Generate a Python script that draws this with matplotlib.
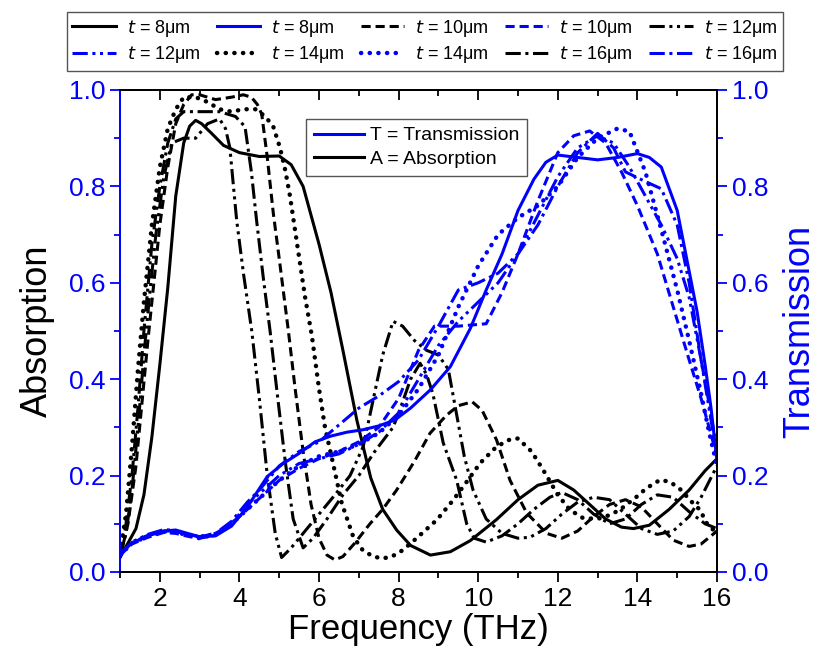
import matplotlib
matplotlib.use("Agg")
import matplotlib.pyplot as plt
from matplotlib.lines import Line2D
from matplotlib.ticker import MultipleLocator, FormatStrFormatter, NullFormatter

plt.rcParams['font.family'] = ['Liberation Sans', 'DejaVu Sans']

# ---- absorption (left axis) ----
a8_x = [1.0, 1.2, 1.4, 1.6, 1.8, 2.0, 2.2, 2.4, 2.6, 2.75, 2.9, 3.05, 3.3, 3.6, 4.0, 4.5, 5.0, 5.3, 5.6, 6.0,
        6.3, 6.6, 6.95, 7.3, 7.6, 7.95, 8.3, 8.8, 9.3, 9.8, 10.45, 11.0, 11.5, 12.0, 12.4, 12.8, 13.2, 13.6,
        13.9, 14.3, 14.8, 15.3, 15.7, 16.0]
a8_y = [0.03, 0.06, 0.09, 0.16, 0.28, 0.43, 0.59, 0.78, 0.89, 0.925, 0.937, 0.93, 0.91, 0.885, 0.87, 0.862,
        0.863, 0.845, 0.8, 0.68, 0.58, 0.46, 0.315, 0.195, 0.13, 0.087, 0.055, 0.035, 0.042, 0.065, 0.108,
        0.15, 0.18, 0.19, 0.17, 0.14, 0.11, 0.093, 0.09, 0.097, 0.13, 0.17, 0.21, 0.235]

a10_x = [1.0, 1.2, 1.4, 1.55, 1.7, 1.85, 2.0, 2.2, 2.4, 2.6, 2.8, 3.0, 3.4, 3.8, 4.1, 4.3, 4.45, 4.56, 4.7,
         4.85, 5.0, 5.23, 5.4, 5.6, 5.8, 6.0, 6.2, 6.4, 6.6, 6.9, 7.28, 7.6, 7.95, 8.4, 8.79, 9.2, 9.5, 9.85,
         10.1, 10.46, 10.8, 11.22, 11.72, 12.1, 12.5, 12.9, 13.3, 13.7, 14.1, 14.5, 14.9, 15.3, 15.6, 16.0]
a10_y = [0.03, 0.1, 0.22, 0.35, 0.48, 0.6, 0.72, 0.84, 0.93, 0.97, 0.99, 0.99, 0.98, 0.985, 0.99, 0.985, 0.97,
         0.95, 0.86, 0.745, 0.65, 0.5, 0.38, 0.25, 0.14, 0.07, 0.035, 0.025, 0.032, 0.06, 0.1, 0.13, 0.17, 0.23,
         0.288, 0.325, 0.345, 0.353, 0.335, 0.274, 0.19, 0.122, 0.08, 0.07, 0.085, 0.115, 0.14, 0.15, 0.135,
         0.1, 0.066, 0.053, 0.058, 0.085]

a12_x = [1.0, 1.15, 1.3, 1.45, 1.6, 1.75, 1.9, 2.1, 2.3, 2.6, 2.9, 3.2, 3.5, 3.65, 3.76, 3.85, 3.93, 4.1, 4.31,
         4.5, 4.7, 4.9, 5.06, 5.3, 5.6, 6.0, 6.4, 6.78, 7.11, 7.36, 7.6, 7.86, 8.1, 8.4, 8.7, 9.0, 9.25, 9.45,
         9.65, 9.87, 10.2, 10.6, 11.0, 11.3, 11.7, 12.1, 12.5, 12.9, 13.3, 13.7, 14.1, 14.5, 14.9, 15.3, 15.6,
         16.0]
a12_y = [0.03, 0.08, 0.17, 0.3, 0.45, 0.58, 0.7, 0.82, 0.89, 0.9, 0.9, 0.93, 0.94, 0.92, 0.88, 0.8, 0.73, 0.62,
         0.5, 0.36, 0.2, 0.08, 0.03, 0.05, 0.08, 0.12, 0.16, 0.2, 0.26, 0.357, 0.45, 0.52, 0.51, 0.48, 0.46, 0.45,
         0.42, 0.33, 0.24, 0.17, 0.11, 0.08, 0.07, 0.072, 0.09, 0.12, 0.145, 0.155, 0.15, 0.12, 0.09, 0.078,
         0.085, 0.115, 0.155, 0.22]

a14_x = [1.0, 1.15, 1.3, 1.45, 1.6, 1.8, 2.0, 2.2, 2.4, 2.6, 2.9, 3.2, 3.5, 3.8, 4.1, 4.4, 4.65, 4.85, 5.02,
         5.15, 5.27, 5.45, 5.65, 5.82, 6.0, 6.15, 6.35, 6.57, 6.86, 7.1, 7.36, 7.6, 7.83, 8.1, 8.45, 8.96, 9.37,
         9.71, 10.05, 10.46, 10.8, 11.0, 11.34, 11.63, 12.0, 12.3, 12.63, 13.0, 13.3, 13.56, 13.98, 14.23,
         14.57, 14.82, 15.1, 15.32, 15.57, 15.75, 16.0]
a14_y = [0.04, 0.12, 0.26, 0.42, 0.56, 0.72, 0.84, 0.92, 0.96, 0.985, 0.985, 0.975, 0.96, 0.955, 0.96, 0.96,
         0.945, 0.924, 0.88, 0.834, 0.78, 0.68, 0.57, 0.49, 0.38, 0.3, 0.226, 0.143, 0.073, 0.045, 0.032, 0.028,
         0.032, 0.045, 0.07, 0.108, 0.149, 0.187, 0.226, 0.26, 0.275, 0.277, 0.25, 0.212, 0.16, 0.129, 0.112,
         0.11, 0.118, 0.129, 0.156, 0.174, 0.191, 0.187, 0.17, 0.149, 0.129, 0.1, 0.08]

a16_x = [1.0, 1.15, 1.3, 1.45, 1.6, 1.8, 2.0, 2.2, 2.4, 2.6, 3.0, 3.5, 3.9, 4.14, 4.3, 4.43, 4.6, 4.77, 4.95,
         5.15, 5.35, 5.6, 5.85, 6.2, 6.6, 7.0, 7.4, 7.86, 8.03, 8.3, 8.54, 8.7, 8.86, 9.12, 9.46, 9.71, 9.9,
         10.2, 10.6, 11.0, 11.4, 11.8, 12.1, 12.5, 12.9, 13.3, 13.7, 14.1, 14.5, 14.9, 15.3, 15.7, 16.0]
a16_y = [0.03, 0.1, 0.2, 0.34, 0.5, 0.68, 0.8, 0.89, 0.94, 0.955, 0.955, 0.955, 0.945, 0.924, 0.83, 0.73, 0.61,
         0.5, 0.37, 0.23, 0.11, 0.05, 0.07, 0.11, 0.16, 0.2, 0.25, 0.3, 0.336, 0.4, 0.433, 0.41, 0.37, 0.268,
         0.19, 0.1, 0.07, 0.062, 0.075, 0.1, 0.13, 0.155, 0.165, 0.15, 0.12, 0.1, 0.11, 0.14, 0.16, 0.155,
         0.125, 0.1, 0.09]

# ---- transmission (right axis) ----
t8_x = [1.0, 1.3, 1.7, 2.1, 2.4, 2.7, 3.0, 3.4, 3.8, 4.2, 4.7, 5.1, 5.5, 5.9, 6.3, 6.7, 7.1, 7.5, 7.9, 8.3,
        8.8, 9.3, 9.8, 10.2, 10.6, 11.0, 11.4, 11.7, 12.0, 12.5, 13.0, 13.5, 14.0, 14.3, 14.6, 15.0, 15.25,
        15.5, 15.7, 15.85, 16.0]
t8_y = [0.04, 0.06, 0.075, 0.085, 0.087, 0.08, 0.073, 0.075, 0.095, 0.135, 0.198, 0.225, 0.246, 0.27, 0.282,
        0.29, 0.295, 0.303, 0.315, 0.34, 0.378, 0.426, 0.505, 0.585, 0.66, 0.75, 0.815, 0.85, 0.865, 0.86,
        0.855, 0.86, 0.868, 0.86, 0.84, 0.75, 0.645, 0.54, 0.43, 0.34, 0.23]

t10_x = [1.0, 1.3, 1.7, 2.1, 2.4, 2.7, 3.0, 3.4, 3.8, 4.2, 4.6, 5.0, 5.5, 6.0, 6.5, 7.0, 7.5, 8.0, 8.5, 8.9,
         9.5, 10.2, 10.6, 11.0, 11.5, 12.0, 12.4, 12.8, 13.2, 13.6, 14.0, 14.5, 14.9, 15.3, 15.6, 15.8, 16.0]
t10_y = [0.035, 0.058, 0.072, 0.082, 0.08, 0.074, 0.07, 0.076, 0.1, 0.13, 0.16, 0.19, 0.215, 0.235, 0.25,
         0.27, 0.3, 0.36, 0.46, 0.51, 0.51, 0.515, 0.58, 0.66, 0.77, 0.87, 0.905, 0.915, 0.89, 0.83, 0.76,
         0.66, 0.55, 0.44, 0.36, 0.3, 0.24]

t12_x = [1.0, 1.3, 1.7, 2.1, 2.4, 2.7, 3.0, 3.4, 3.8, 4.2, 4.6, 5.0, 5.5, 6.0, 6.5, 7.0, 7.5, 8.0, 8.5, 9.0,
         9.5, 10.0, 10.5, 11.0, 11.5, 12.0, 12.5, 13.0, 13.4, 13.8, 14.2, 14.6, 15.0, 15.3, 15.6, 15.8, 16.0]
t12_y = [0.035, 0.062, 0.078, 0.088, 0.086, 0.077, 0.074, 0.08, 0.1, 0.14, 0.17, 0.2, 0.225, 0.235, 0.245,
         0.265, 0.29, 0.33, 0.4, 0.47, 0.52, 0.56, 0.6, 0.66, 0.74, 0.82, 0.88, 0.905, 0.89, 0.84, 0.78, 0.72,
         0.65, 0.57, 0.44, 0.34, 0.24]

t14_x = [1.0, 1.3, 1.7, 2.1, 2.4, 2.7, 3.0, 3.4, 3.8, 4.2, 4.6, 5.0, 5.5, 6.0, 6.5, 7.0, 7.5, 8.0, 8.5, 9.0,
         9.5, 10.0, 10.5, 11.0, 11.5, 12.0, 12.5, 13.0, 13.5, 13.8, 14.2, 14.6, 15.0, 15.3, 15.6, 15.8, 16.0]
t14_y = [0.035, 0.06, 0.074, 0.084, 0.083, 0.076, 0.07, 0.078, 0.1, 0.13, 0.16, 0.19, 0.22, 0.24, 0.25, 0.265,
         0.288, 0.325, 0.38, 0.45, 0.55, 0.635, 0.7, 0.735, 0.76, 0.8, 0.86, 0.9, 0.92, 0.914, 0.83, 0.71,
         0.585, 0.48, 0.37, 0.29, 0.22]

t16_x = [1.0, 1.3, 1.7, 2.1, 2.4, 2.7, 3.0, 3.4, 3.8, 4.2, 4.5, 5.0, 5.5, 6.0, 6.5, 7.0, 7.5, 8.0, 8.5, 9.0,
         9.5, 10.0, 10.5, 11.0, 11.5, 12.0, 12.5, 13.0, 13.4, 13.7, 14.2, 14.6, 15.0, 15.3, 15.6, 15.8, 16.0]
t16_y = [0.035, 0.062, 0.076, 0.086, 0.084, 0.078, 0.073, 0.08, 0.105, 0.145, 0.17, 0.22, 0.25, 0.27, 0.305,
         0.34, 0.365, 0.395, 0.44, 0.51, 0.585, 0.6, 0.62, 0.66, 0.72, 0.8, 0.87, 0.91, 0.88, 0.83, 0.81, 0.795,
         0.72, 0.6, 0.44, 0.35, 0.25]

labels_t = ['8', '10', '12', '14', '16']

styles = {
    '8': dict(ls='-', lw=2.2),
    '10': dict(ls=(0, (3, 1.6)), lw=2.2),
    '12': dict(ls=(0, (5, 1.5, 1, 1.5, 1, 1.5)), lw=2.2),
    '14': dict(ls=(0, (0.05, 1.9)), dash_capstyle='round', lw=3.2),
    '16': dict(ls=(0, (5, 1.5, 1, 1.5)), lw=2.2),
}

blue = '#0000ff'

fig = plt.figure(figsize=(8.25, 6.64), dpi=100)
ax = fig.add_axes([0.1455, 0.1386, 0.7236, 0.7259])
ax2 = ax.twinx()

abs_data = {'8': (a8_x, a8_y), '10': (a10_x, a10_y), '12': (a12_x, a12_y), '14': (a14_x, a14_y), '16': (a16_x, a16_y)}
tr_data = {'8': (t8_x, t8_y), '10': (t10_x, t10_y), '12': (t12_x, t12_y), '14': (t14_x, t14_y), '16': (t16_x, t16_y)}

handles = {}
for t in labels_t:
    la, = ax.plot(*abs_data[t], color='black', **styles[t])
    lt, = ax2.plot(*tr_data[t], color=blue, **styles[t])
    handles[('A', t)] = la
    handles[('T', t)] = lt

ax.set_xlim(1, 16)
ax.set_ylim(0, 1)
ax2.set_ylim(0, 1)
ax.xaxis.set_major_locator(MultipleLocator(2))
ax.xaxis.set_minor_locator(MultipleLocator(1))
for a in (ax, ax2):
    a.yaxis.set_major_locator(MultipleLocator(0.2))
    a.yaxis.set_minor_locator(MultipleLocator(0.1))
    a.yaxis.set_major_formatter(FormatStrFormatter('%.1f'))

ax.tick_params(axis='x', which='both', direction='out', labelsize=19, width=1.3)
ax.tick_params(axis='x', which='major', length=7)
ax.tick_params(axis='x', which='minor', length=4)
ax.tick_params(axis='y', which='both', direction='out', colors=blue, labelsize=19, width=1.3)
ax.tick_params(axis='y', which='major', length=7)
ax.tick_params(axis='y', which='minor', length=4)
ax2.tick_params(axis='y', which='both', direction='out', colors=blue, labelsize=19, width=1.3)
ax2.tick_params(axis='y', which='major', length=7)
ax2.tick_params(axis='y', which='minor', length=4)

# top ticks point inward, no labels
top = ax.secondary_xaxis('top')
top.xaxis.set_major_locator(MultipleLocator(2))
top.xaxis.set_minor_locator(MultipleLocator(1))
top.xaxis.set_major_formatter(NullFormatter())
top.tick_params(which='both', direction='in', width=1.3)
top.tick_params(which='major', length=7)
top.tick_params(which='minor', length=4)

ax.spines['left'].set_color(blue)
ax2.spines['left'].set_color(blue)
for a in (ax, ax2, top):
    for s in a.spines.values():
        s.set_linewidth(1.3)

ax.set_xlabel('Frequency (THz)', fontsize=25, labelpad=2)
ax.set_ylabel('Absorption', fontsize=26, labelpad=10)
ax2.set_ylabel('Transmission', fontsize=26, color=blue, labelpad=10)

# inner legend
inner = [Line2D([], [], color=blue, lw=2.2), Line2D([], [], color='black', lw=2.2)]
ax2.legend(inner, ['T = Transmission', 'A = Absorption'], loc='upper left', bbox_to_anchor=(0.295, 0.96),
           fontsize=14, frameon=True, fancybox=False, edgecolor='#555555', framealpha=1,
           handlelength=2.6, handletextpad=0.3, borderpad=0.4, labelspacing=0.3)

# top legend, filled column-wise so rows read A8 T8 A10 T10 A12 / T12 A14 T14 A16 T16
order = [('A', '8'), ('T', '12'), ('T', '8'), ('A', '14'), ('A', '10'), ('T', '14'),
         ('T', '10'), ('A', '16'), ('A', '12'), ('T', '16')]
fig.legend([handles[k] for k in order], [r'$t$ = ' + k[1] + 'μm' for k in order],
           ncol=5, loc='upper center', bbox_to_anchor=(0.515, 0.995), fontsize=13,
           frameon=True, fancybox=False, edgecolor='#555555', framealpha=1,
           handlelength=2.4, handletextpad=0.6, columnspacing=0.9, borderpad=0.3, labelspacing=0.3)

fig.savefig('out.png', dpi=100)
